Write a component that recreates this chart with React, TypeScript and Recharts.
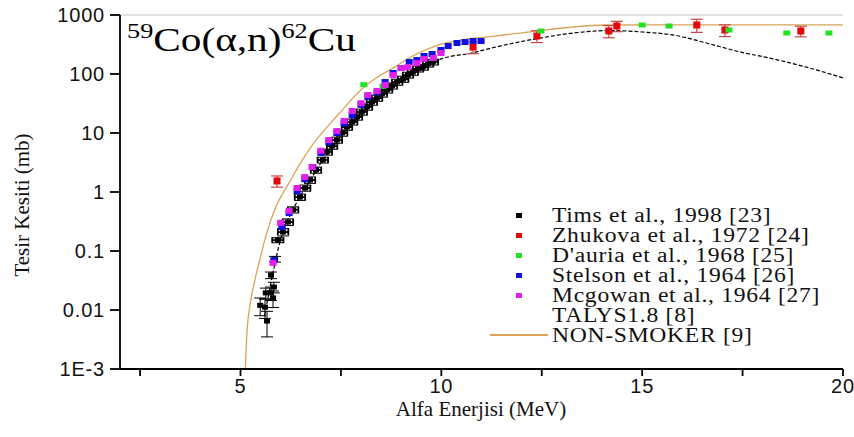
import React from 'react';
import { ComposedChart, Scatter, Line, XAxis, YAxis, ErrorBar, ReferenceLine } from 'recharts';

// axis ticks
const X_TICKS = [2.5, 5, 7.5, 10, 12.5, 15, 17.5, 20];
const Y_TICKS = [0.001, 0.01, 0.1, 1, 10, 100, 1000];
const Y_MINOR = [0.001, 0.01, 0.1, 1, 10, 100].flatMap((d) => [2, 3, 4, 5, 6, 7, 8, 9].map((m) => m * d));

// [energy MeV, cross section mb, y error, x error]
const TIMS: number[][] = [
  [5.49, 0.012, 0.004, 0], [5.61, 0.0112, 0.004, 0], [5.63, 0.0195, 0.004, 0],
  [5.66, 0.0065, 0.003, 0], [5.76, 0.0195, 0.005, 0], [5.81, 0.016, 0.005, 0],
  [5.83, 0.0245, 0.005, 0], [5.76, 0.039, 0.005, 0], [5.86, 0.073, 0.008, 0.05],
  [5.93, 0.153, 0.015, 0.14], [6.06, 0.21, 0.03, 0.13], [6.18, 0.31, 0.04, 0.13],
  [6.31, 0.5, 0.06, 0.13], [6.48, 0.82, 0.1, 0.13], [6.61, 1.17, 0.14, 0.13],
  [6.73, 1.6, 0.2, 0.13], [6.88, 2.36, 0.28, 0.13], [7.05, 3.49, 0.4, 0.13],
  [7.15, 4.76, 0.55, 0.13], [7.28, 6.0, 0.7, 0.13], [7.4, 7.6, 0.9, 0.13],
  [7.53, 10, 1.2, 0.13], [7.65, 12.6, 1.5, 0.13], [7.78, 15.4, 1.8, 0.13],
  [7.9, 18.7, 2.2, 0.13], [8.02, 22.7, 2.7, 0.13], [8.15, 27.6, 3.3, 0.13],
  [8.27, 33.5, 4, 0.13], [8.4, 39, 4.6, 0.13], [8.52, 46, 5.5, 0.13],
  [8.65, 54, 6.5, 0.13], [8.77, 63, 7.5, 0.13], [8.9, 73, 8.7, 0.13],
  [9.05, 82, 9.8, 0.13], [9.17, 96, 11, 0.13], [9.29, 108, 13, 0.13],
  [9.42, 122, 14, 0.13], [9.54, 131, 15, 0.13], [9.67, 148, 17, 0.13],
  [9.79, 160, 18, 0.13],
];

const ZHUKOVA: number[][] = [
  [5.91, 1.54, 0.33], [10.79, 286, 65], [12.38, 441, 100], [14.17, 536, 125],
  [14.37, 651, 130], [16.36, 677, 170], [17.06, 557, 125], [18.95, 536, 110],
];

const DAURIA: number[][] = [
  [8.07, 66], [8.55, 62], [12.48, 536], [15.0, 677], [15.67, 651], [17.16, 557],
  [18.6, 495], [19.65, 495],
];

const STELSON: number[][] = [
  [5.83, 0.07], [6.03, 0.255], [6.21, 0.44], [6.41, 1.04], [6.6, 1.65], [6.8, 2.65],
  [7.0, 4.6], [7.2, 7.0], [7.4, 10], [7.58, 14.6], [7.78, 20], [8.0, 30], [8.17, 41],
  [8.4, 49], [8.6, 73], [8.8, 104], [9.0, 126], [9.2, 160], [9.39, 172], [9.57, 202],
  [9.77, 218], [9.99, 255], [10.17, 298], [10.39, 335], [10.59, 348], [10.79, 362],
  [10.99, 362],
];

const MCGOWAN: number[][] = [
  [5.81, 0.063], [6.0, 0.3], [6.21, 0.48], [6.41, 1.17], [6.6, 1.79], [6.78, 2.65],
  [7.0, 5.0], [7.2, 7.6], [7.4, 10.8], [7.58, 16], [7.78, 23.6], [8.0, 32], [8.17, 44],
  [8.4, 51.5], [8.6, 65], [8.8, 96], [9.0, 126], [9.17, 131], [9.39, 153], [9.57, 180],
  [9.8, 187], [9.99, 227],
];

const TALYS: number[][] = [
  [5.6, 0.008], [5.8, 0.04], [6.0, 0.16], [6.25, 0.42], [6.5, 0.88], [6.75, 1.65],
  [7.0, 3.1], [7.5, 8.5], [8.0, 21], [8.5, 43], [9.0, 78], [9.5, 125], [10.0, 180],
  [10.8, 230], [11.2, 270], [12.4, 400], [13.4, 505], [14.2, 545], [15.0, 515],
  [15.8, 455], [16.6, 335], [17.4, 240], [18.3, 178], [19.1, 130], [20, 86],
];

const NON_SMOKER: number[][] = [
  [5.12, 0.001], [5.16, 0.004], [5.26, 0.015], [5.39, 0.04], [5.5, 0.08], [5.6, 0.15],
  [5.72, 0.28], [5.9, 0.6], [6.06, 0.96], [6.25, 1.6], [6.48, 3.0], [6.73, 5.5],
  [7.0, 9.5], [7.25, 15], [7.5, 23], [7.75, 36], [8.05, 58], [8.4, 88], [8.8, 126],
  [9.22, 190], [10.0, 320], [10.5, 380], [11.2, 430], [12.4, 536], [13.2, 620],
  [14.1, 677], [16, 680], [18, 680], [20, 680],
];

const COLORS = {
  tims: '#000000',
  zhukova: '#e8000a',
  zhukovaErr: '#c84848',
  dauria: '#22e022',
  stelson: '#1010e0',
  mcgowan: '#e020e8',
  talys: '#000000',
  nonSmoker: '#d8a458',
};

const LEGEND_ITEMS = [
  { name: 'Tims et al., 1998 [23]', color: COLORS.tims, kind: 'square' },
  { name: 'Zhukova et al., 1972 [24]', color: COLORS.zhukova, kind: 'square' },
  { name: "D'auria et al., 1968 [25]", color: COLORS.dauria, kind: 'square' },
  { name: 'Stelson et al., 1964 [26]', color: COLORS.stelson, kind: 'square' },
  { name: 'Mcgowan et al., 1964 [27]', color: COLORS.mcgowan, kind: 'square' },
  { name: 'TALYS1.8 [8]', color: COLORS.talys, kind: 'none' },
  { name: 'NON-SMOKER [9]', color: COLORS.nonSmoker, kind: 'line' },
];

const toPts = (rows: number[][]) => rows.map(([x, y, ye = 0, xe = 0]) => ({ x, y, ye, xe }));

const square = (color: string, w: number, h: number) => (props: any) => {
  const { cx, cy } = props;
  if (cx == null || cy == null) return <g />;
  return <rect x={cx - w / 2} y={cy - h / 2} width={w} height={h} fill={color} />;
};

const serif = '"Liberation Serif", "Times New Roman", serif';
const sans = '"Liberation Sans", Arial, sans-serif';
const tickStyle = { fill: '#111', fontSize: 20, fontFamily: sans, letterSpacing: 0.8 };

const fmtY = (v: number) => (v < 0.005 ? '1E-3' : String(v));
const fmtX = (v: number) => (v % 5 === 0 ? String(v) : '');

export default function App() {
  return (
    <div style={{ position: 'relative', width: 854, height: 437, background: '#fff', overflow: 'hidden' }}>
      <style>{'body{margin:0}'}</style>
      <ComposedChart width={854} height={437} margin={{ top: 15, right: 11, bottom: 0, left: 0 }}>
        <XAxis
          dataKey="x"
          type="number"
          domain={[2, 20]}
          ticks={X_TICKS}
          tickFormatter={fmtX}
          allowDataOverflow
          height={68}
          tickSize={7}
          tickMargin={3}
          stroke="#000"
          strokeWidth={1.8}
          tick={tickStyle}
        />
        <YAxis
          yAxisId="main"
          dataKey="y"
          type="number"
          scale="log"
          domain={[0.001, 1000]}
          ticks={Y_TICKS}
          tickFormatter={fmtY}
          allowDataOverflow
          width={120}
          tickSize={10}
          tickMargin={5}
          stroke="#000"
          strokeWidth={1.8}
          tick={tickStyle}
        />
        <YAxis
          yAxisId="minor"
          type="number"
          scale="log"
          domain={[0.001, 1000]}
          ticks={Y_MINOR}
          allowDataOverflow
          width={0}
          tick={false}
          tickSize={5}
          axisLine={false}
          tickLine={{ stroke: '#000', strokeWidth: 1 }}
        />
        <ReferenceLine yAxisId="main" y={1000} stroke="#c8c8c8" strokeWidth={1.2} />

        <Line yAxisId="main" data={toPts(NON_SMOKER)} dataKey="y" type="monotone" stroke={COLORS.nonSmoker}
          strokeWidth={1.3} dot={false} isAnimationActive={false} />
        <Line yAxisId="main" data={toPts(TALYS)} dataKey="y" type="monotone" stroke={COLORS.talys}
          strokeWidth={1.2} strokeDasharray="4 2" dot={false} isAnimationActive={false} />

        <Scatter yAxisId="main" data={toPts(TIMS)} shape={square(COLORS.tims, 6, 5)} isAnimationActive={false}>
          <ErrorBar dataKey="ye" direction="y" width={6} stroke="#000" strokeWidth={1} />
          <ErrorBar dataKey="xe" direction="x" width={3} stroke="#000" strokeWidth={1.8} />
        </Scatter>
        <Scatter yAxisId="main" data={toPts(ZHUKOVA)} shape={square(COLORS.zhukova, 7, 7)} isAnimationActive={false}>
          <ErrorBar dataKey="ye" direction="y" width={6} stroke={COLORS.zhukovaErr} strokeWidth={1.2} />
        </Scatter>
        <Scatter yAxisId="main" data={toPts(DAURIA)} shape={square(COLORS.dauria, 7, 5)} isAnimationActive={false} />
        <Scatter yAxisId="main" data={toPts(STELSON)} shape={square(COLORS.stelson, 7, 6)} isAnimationActive={false} />
        <Scatter yAxisId="main" data={toPts(MCGOWAN)} shape={square(COLORS.mcgowan, 7, 6)} isAnimationActive={false} />
      </ComposedChart>

      {/* reaction title */}
      <div style={{ position: 'absolute', left: 127, top: 22, fontFamily: serif, fontSize: 33, lineHeight: '36px', color: '#000', whiteSpace: 'nowrap', transform: 'scaleX(1.25)', transformOrigin: 'left top' }}>
        <span style={{ fontSize: 21, position: 'relative', top: -13 }}>59</span>Co(α,n)
        <span style={{ fontSize: 21, position: 'relative', top: -13 }}>62</span>Cu
      </div>

      {/* axis titles */}
      <div style={{ position: 'absolute', left: 0, width: 962, top: 397, textAlign: 'center', fontFamily: serif, fontSize: 21, color: '#111' }}>
        Alfa Enerjisi (MeV)
      </div>
      <div style={{ position: 'absolute', left: 22, top: 205, transform: 'translate(-50%, -50%) rotate(-90deg)', fontFamily: serif, fontSize: 21, color: '#111', whiteSpace: 'nowrap' }}>
        Tesir Kesiti (mb)
      </div>

      {/* legend */}
      <div style={{ position: 'absolute', left: 485, top: 205, fontFamily: serif, fontSize: 20, lineHeight: '20px', color: '#111' }}>
        {LEGEND_ITEMS.map((it) => (
          <div key={it.name} style={{ display: 'flex', alignItems: 'center', height: 20, overflow: 'visible' }}>
            <div style={{ width: 67, display: 'flex', justifyContent: 'center', alignItems: 'center' }}>
              {it.kind === 'square' && <div style={{ width: 6, height: 5, background: it.color }} />}
              {it.kind === 'line' && <div style={{ width: 58, height: 1.5, background: it.color }} />}
            </div>
            <span style={{ letterSpacing: 0.6, lineHeight: '18px', whiteSpace: 'nowrap', display: 'inline-block', transform: 'scaleX(1.18)', transformOrigin: 'left center' }}>{it.name}</span>
          </div>
        ))}
      </div>
    </div>
  );
}
